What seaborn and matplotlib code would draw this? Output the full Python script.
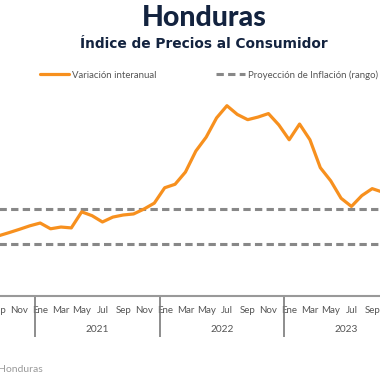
import numpy as np
import pandas as pd
import seaborn as sns
import matplotlib.pyplot as plt
import matplotlib.transforms as mtransforms

# Monthly inflation (interannual, %), Aug 2020 - Oct 2023
months = ['Ago', 'Sep', 'Oct', 'Nov', 'Dic',
          'Ene', 'Feb', 'Mar', 'Abr', 'May', 'Jun', 'Jul', 'Ago', 'Sep', 'Oct', 'Nov', 'Dic',
          'Ene', 'Feb', 'Mar', 'Abr', 'May', 'Jun', 'Jul', 'Ago', 'Sep', 'Oct', 'Nov', 'Dic',
          'Ene', 'Feb', 'Mar', 'Abr', 'May', 'Jun', 'Jul', 'Ago', 'Sep', 'Oct']
inflation = [3.30, 3.45, 3.63, 3.82, 4.02,
             4.18, 3.85, 3.95, 3.90, 4.82, 4.60, 4.24, 4.52, 4.64, 4.70, 4.98, 5.32,
             6.20, 6.40, 7.10, 8.30, 9.10, 10.20, 10.90, 10.40, 10.10, 10.25, 10.45, 9.80,
             8.95, 9.85, 8.95, 7.35, 6.60, 5.60, 5.13, 5.75, 6.15, 5.95]
years = [2021, 2022, 2023]
target_range = [3, 5]
tick_months = ['Ene', 'Mar', 'May', 'Jul', 'Sep', 'Nov']

# month index: Jan 2021 bin = [0, 1]
month_idx = np.arange(len(inflation)) - 5
df = pd.DataFrame({'x': month_idx + 0.5, 'inflacion': inflation})

orange = '#F7901E'
gray = '#888888'
navy = '#13233F'
txt = '#555555'

sns.set_style('white')
plt.rcParams['font.family'] = ['Lato', 'DejaVu Sans']

# axes run a little past both edges of the figure (chart is cropped)
fig = plt.figure(figsize=(3.8, 3.8), dpi=100)
ax = fig.add_axes([-40 / 380, (380 - 296) / 380, 460 / 380, (296 - 90) / 380])

sns.lineplot(data=df, x='x', y='inflacion', ax=ax, color=orange, linewidth=2.3,
             label='Variación interanual', solid_joinstyle='round', solid_capstyle='round')
for i, v in enumerate(target_range):
    ax.axhline(v, color=gray, linewidth=2.2, dashes=(2.4, 1.4),
               label='Proyección de Inflación (rango)' if i == 0 else None, zorder=1)

ax.set_xlabel('')
ax.set_ylabel('')
ax.set_yticks([])

# month labels every other month, centred on bins
ticks, labels = [], []
for yi in range(-1, 3):
    for k, m in enumerate(tick_months):
        ticks.append(yi * 12 + 2 * k + 0.5)
        labels.append(m)
ax.set_xticks(ticks)
ax.set_xticklabels(labels, fontsize=7, color=txt)
ax.set_xticks([0, 12, 24], minor=True)
ax.tick_params(axis='x', which='both', bottom=True)
ax.tick_params(axis='x', which='major', length=0, pad=7)
ax.tick_params(axis='x', which='minor', length=29.5, width=1.2, color='#7a7a7a', direction='out')

ax.set_xlim(-75 / 10.375, 385 / 10.375)
ax.set_ylim(0, 11.8)

trans = mtransforms.blended_transform_factory(ax.transData, fig.transFigure)
for i, yr in enumerate(years):
    ax.text(i * 12 + 6, (380 - 330) / 380, str(yr), transform=trans,
            ha='center', va='center', fontsize=7.3, color=txt)

for s in ['top', 'left', 'right']:
    ax.spines[s].set_visible(False)
ax.spines['bottom'].set_color('#999999')
ax.spines['bottom'].set_linewidth(1.5)

leg = ax.legend(loc='center', bbox_to_anchor=(209 / 380, (380 - 75) / 380),
                bbox_transform=fig.transFigure, ncol=2, frameon=False, fontsize=6.9,
                handlelength=3.0, handletextpad=0.25, columnspacing=6.3, borderaxespad=0,
                borderpad=0)
for t in leg.get_texts():
    t.set_color(txt)

fig.text(204 / 380, (380 - 18) / 380, 'Honduras', ha='center', va='center',
         fontsize=20.5, fontweight='black', color=navy)
fig.text(204 / 380, (380 - 44) / 380, 'Índice de Precios al Consumidor', ha='center',
         va='center', fontsize=9.9, fontweight='bold', color=navy, family='DejaVu Sans')
fig.text(43 / 380, (380 - 370) / 380, 'Fuente: Banco Central de Honduras', ha='right',
         va='center', fontsize=7.5, color='#9a9a9a')

fig.savefig('out.png', dpi=100)
